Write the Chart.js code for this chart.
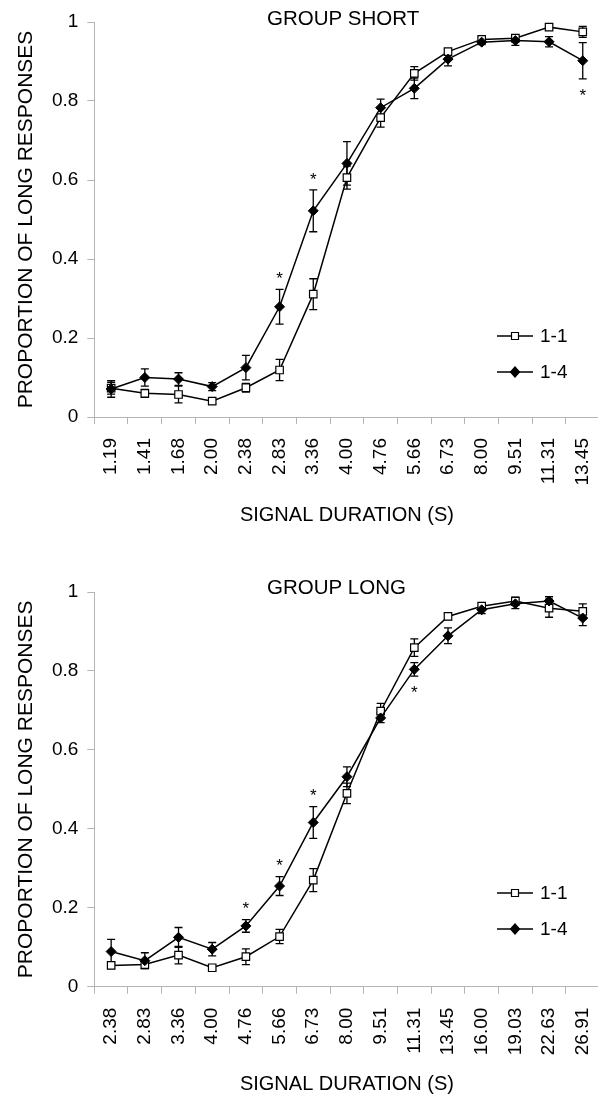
<!DOCTYPE html>
<html lang="en">
<head>
<meta charset="UTF-8">
<title>Proportion of long responses</title>
<script src="https://cdn.jsdelivr.net/npm/chart.js"></script>
<style>
  html, body { margin: 0; padding: 0; background: #fff; overflow: hidden; }
  .painel { position: absolute; left: 0; width: 620px; height: 548px; }
</style>
</head>
<body>
<div class="painel" style="top:0"><canvas id="graficoShort" width="620" height="548"></canvas></div>
<div class="painel" style="top:548px"><canvas id="graficoLong" width="620" height="548"></canvas></div>

<script>
// ---- dados ----
var duracoesShort = ["1.19", "1.41", "1.68", "2.00", "2.38", "2.83", "3.36", "4.00", "4.76", "5.66", "6.73", "8.00", "9.51", "11.31", "13.45"];
var short11 = [0.073, 0.060, 0.057, 0.040, 0.074, 0.119, 0.311, 0.606, 0.758, 0.870, 0.925, 0.956, 0.959, 0.987, 0.975];
var short11Err = [0.015, 0.010, 0.021, 0.006, 0.011, 0.027, 0.039, 0.029, 0.024, 0.017, 0.007, 0.006, 0.006, 0.005, 0.014];
var short14 = [0.071, 0.100, 0.096, 0.077, 0.125, 0.279, 0.522, 0.642, 0.783, 0.832, 0.906, 0.949, 0.953, 0.950, 0.902];
var short14Err = [0.021, 0.022, 0.016, 0.010, 0.031, 0.044, 0.053, 0.055, 0.022, 0.026, 0.017, 0.006, 0.012, 0.013, 0.046];
var shortAsteriscos = [5, 6, 14];
var shortLado = ["acima", "acima", "abaixo"];

var duracoesLong = ["2.38", "2.83", "3.36", "4.00", "4.76", "5.66", "6.73", "8.00", "9.51", "11.31", "13.45", "16.00", "19.03", "22.63", "26.91"];
var long11 = [0.054, 0.056, 0.080, 0.048, 0.076, 0.127, 0.270, 0.490, 0.698, 0.859, 0.938, 0.964, 0.977, 0.959, 0.951];
var long11Err = [0.008, 0.010, 0.022, 0.005, 0.020, 0.018, 0.029, 0.026, 0.020, 0.022, 0.008, 0.007, 0.010, 0.023, 0.019];
var long14 = [0.089, 0.066, 0.125, 0.095, 0.154, 0.255, 0.416, 0.532, 0.681, 0.804, 0.889, 0.955, 0.970, 0.977, 0.934];
var long14Err = [0.031, 0.020, 0.025, 0.017, 0.016, 0.024, 0.040, 0.025, 0.012, 0.017, 0.020, 0.010, 0.012, 0.011, 0.019];
var longAsteriscos = [4, 5, 6, 9];
var longLado = ["acima", "acima", "acima", "abaixo"];

var yTicks = [0, 0.2, 0.4, 0.6, 0.8, 1];
var nomesSeries = ["1-1", "1-4"];

var fonte = "'Liberation Sans', Arial, Helvetica, sans-serif";
var cinza = "#b4b4b4";

// barras de erro (desenhadas antes das linhas/marcadores)
var barrasErro = {
  id: "barrasErro",
  beforeDatasetsDraw: function (chart) {
    var ctx = chart.ctx;
    var y = chart.scales.y;
    ctx.save();
    ctx.strokeStyle = "#000";
    ctx.lineWidth = 1.3;
    chart.data.datasets.forEach(function (ds, d) {
      var meta = chart.getDatasetMeta(d);
      meta.data.forEach(function (pt, i) {
        var v = ds.data[i], e = ds.erros[i];
        var topo = y.getPixelForValue(v + e);
        var base = y.getPixelForValue(v - e);
        ctx.beginPath();
        ctx.moveTo(pt.x, topo); ctx.lineTo(pt.x, base);
        ctx.moveTo(pt.x - 4, topo); ctx.lineTo(pt.x + 4, topo);
        ctx.moveTo(pt.x - 4, base); ctx.lineTo(pt.x + 4, base);
        ctx.stroke();
      });
    });
    ctx.restore();
  }
};

// asteriscos, titulo do grupo e legenda
var extras = {
  id: "extras",
  afterDraw: function (chart) {
    var ctx = chart.ctx;
    var op = chart.options.plugins.extras;
    var y = chart.scales.y;
    ctx.save();

    // asteriscos junto da serie 1-4
    var ds = chart.data.datasets[1];
    var meta = chart.getDatasetMeta(1);
    ctx.fillStyle = "#000";
    ctx.font = "17px " + fonte;
    ctx.textAlign = "center";
    ctx.textBaseline = "middle";
    op.asteriscos.forEach(function (i, k) {
      var pt = meta.data[i];
      var yy;
      if (op.lado[k] == "acima") {
        yy = y.getPixelForValue(ds.data[i] + ds.erros[i]) - 10;
      } else {
        yy = y.getPixelForValue(ds.data[i] - ds.erros[i]) + 17;
      }
      ctx.fillText("*", pt.x, yy);
    });

    // titulo
    ctx.font = "20.5px " + fonte;
    ctx.textAlign = "left";
    ctx.fillText(op.titulo, 267, op.tituloY);

    // legenda
    for (var s = 0; s < 2; s++) {
      var ly = op.legendaY[s];
      ctx.strokeStyle = "#000";
      ctx.lineWidth = 1.5;
      ctx.beginPath();
      ctx.moveTo(497, ly); ctx.lineTo(533, ly);
      ctx.stroke();
      desenharMarcador(ctx, s, 515, ly);
      ctx.fillStyle = "#000";
      ctx.font = "19px " + fonte;
      ctx.textAlign = "left";
      ctx.fillText(nomesSeries[s], 540, ly + 1);
    }
    ctx.restore();
  }
};

function desenharMarcador(ctx, s, x, y) {
  ctx.save();
  ctx.lineWidth = 1.2;
  ctx.strokeStyle = "#000";
  ctx.beginPath();
  if (s == 0) {
    ctx.fillStyle = "#fff";
    ctx.rect(x - 3.5, y - 3.5, 7, 7);
  } else {
    ctx.fillStyle = "#000";
    ctx.moveTo(x, y - 5); ctx.lineTo(x + 4.5, y); ctx.lineTo(x, y + 5); ctx.lineTo(x - 4.5, y);
    ctx.closePath();
  }
  ctx.fill();
  ctx.stroke();
  ctx.restore();
}

function criarGrafico(id, labels, d11, e11, d14, e14, asteriscos, lado, titulo, cfg) {
  var config = {
    type: "line",
    data: {
      labels: labels,
      datasets: [
        {
          label: nomesSeries[0],
          data: d11,
          erros: e11,
          borderColor: "#000",
          borderWidth: 1.5,
          backgroundColor: "#fff",
          pointStyle: "rect",
          pointRadius: 5.3,
          pointBorderWidth: 1.2,
          pointBorderColor: "#000",
          pointBackgroundColor: "#fff",
          tension: 0,
          order: 1
        },
        {
          label: nomesSeries[1],
          data: d14,
          erros: e14,
          borderColor: "#000",
          borderWidth: 1.5,
          backgroundColor: "#000",
          pointStyle: "rectRot",
          pointRadius: 5,
          pointBorderWidth: 1,
          pointBorderColor: "#000",
          pointBackgroundColor: "#000",
          tension: 0,
          order: 0
        }
      ]
    },
    options: {
      responsive: false,
      animation: false,
      devicePixelRatio: 1,
      layout: { padding: { top: cfg.topo, right: 13.6, bottom: 0, left: 0 } },
      plugins: {
        legend: { display: false },
        tooltip: { enabled: false },
        extras: { asteriscos: asteriscos, lado: lado, titulo: titulo, tituloY: cfg.tituloY, legendaY: cfg.legendaY }
      },
      scales: {
        x: {
          type: "category",
          offset: true,
          grid: { drawOnChartArea: false, drawTicks: true, tickLength: 7, color: cinza, offset: true },
          border: { display: true, color: cinza },
          ticks: { color: "#000", font: { family: fonte, size: 19 }, minRotation: 90, maxRotation: 90, padding: 14, autoSkip: false },
          title: { display: true, text: "SIGNAL DURATION (S)", color: "#000", font: { family: fonte, size: 20 }, padding: { top: 0, bottom: cfg.xTituloPad } },
          afterFit: function (scale) { scale.height = cfg.alturaX; }
        },
        y: {
          min: 0,
          max: 1,
          grid: { drawOnChartArea: false, drawTicks: true, tickLength: 7, color: cinza },
          border: { display: true, color: cinza },
          afterBuildTicks: function (scale) {
            scale.ticks = yTicks.map(function (v) { return { value: v }; });
          },
          ticks: { color: "#000", font: { family: fonte, size: 19 }, padding: 9,
            callback: function (v) { return String(v); } },
          title: { display: true, text: "PROPORTION OF LONG RESPONSES", color: "#000", font: { family: fonte, size: 21 }, padding: { top: 13.4, bottom: 0 } },
          afterFit: function (scale) { scale.width = 94.3; }
        }
      }
    },
    plugins: [barrasErro, extras]
  };
  return new Chart(document.getElementById(id), config);
}

criarGrafico("graficoShort", duracoesShort, short11, short11Err, short14, short14Err,
  shortAsteriscos, shortLado, "GROUP SHORT",
  { topo: 22, alturaX: 131, xTituloPad: 21, tituloY: 19, legendaY: [336, 372] });

criarGrafico("graficoLong", duracoesLong, long11, long11Err, long14, long14Err,
  longAsteriscos, longLado, "GROUP LONG",
  { topo: 44, alturaX: 109.3, xTituloPad: 0, tituloY: 40, legendaY: [345, 381] });
</script>
</body>
</html>
